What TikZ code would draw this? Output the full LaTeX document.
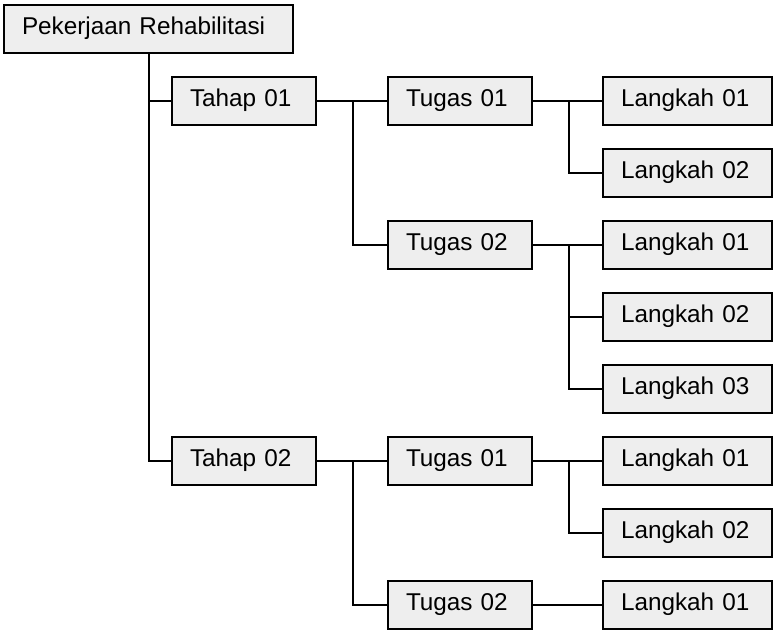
\documentclass[tikz,border=0pt]{standalone}
\usepackage{fontspec}
\setmainfont{Liberation Sans}
\begin{document}
\begin{tikzpicture}[x=1pt,y=-1pt,
  box/.style={draw=black, line width=2pt, fill=boxgray, rectangle,
    minimum height=48pt, inner ysep=0pt, inner xsep=18pt,
    text height=17pt, text depth=7pt,
    align=left, font=\fontsize{24.3}{28}\selectfont},
  small/.style={box, text width=108pt},
  wide/.style={box, text width=133pt},
  link/.style={draw=black, line width=2pt}]
\definecolor{boxgray}{RGB}{238,238,238}
\useasboundingbox (0,0) rectangle (773,630);

% root and phases
\node[box, text width=253pt] (root) at (148.5,29) {Pekerjaan Rehabilitasi};
\node[small] (t1) at (244,101) {Tahap 01};
\node[small] (t2) at (244,461) {Tahap 02};

% tasks
\node[small] (g11) at (460,101) {Tugas 01};
\node[small] (g12) at (460,245) {Tugas 02};
\node[small] (g21) at (460,461) {Tugas 01};
\node[small] (g22) at (460,605) {Tugas 02};

% steps
\node[wide] (s111) at (687.5,101) {Langkah 01};
\node[wide] (s112) at (687.5,173) {Langkah 02};
\node[wide] (s121) at (687.5,245) {Langkah 01};
\node[wide] (s122) at (687.5,317) {Langkah 02};
\node[wide] (s123) at (687.5,389) {Langkah 03};
\node[wide] (s211) at (687.5,461) {Langkah 01};
\node[wide] (s212) at (687.5,533) {Langkah 02};
\node[wide] (s221) at (687.5,605) {Langkah 01};

% root to phases
\draw[link] (root.south) |- (t2.west);
\draw[link] (root.south) |- (t1.west);

% phases to tasks
\draw[link] (t1.east) -- (g11.west);
\draw[link] (t1.east) -- ++(36,0) |- (g12.west);
\draw[link] (t2.east) -- (g21.west);
\draw[link] (t2.east) -- ++(36,0) |- (g22.west);

% tasks to steps
\draw[link] (g11.east) -- (s111.west);
\draw[link] (g11.east) -- ++(36,0) |- (s112.west);
\draw[link] (g12.east) -- (s121.west);
\draw[link] (g12.east) -- ++(36,0) |- (s122.west);
\draw[link] (g12.east) -- ++(36,0) |- (s123.west);
\draw[link] (g21.east) -- (s211.west);
\draw[link] (g21.east) -- ++(36,0) |- (s212.west);
\draw[link] (g22.east) -- (s221.west);
\end{tikzpicture}
\end{document}
